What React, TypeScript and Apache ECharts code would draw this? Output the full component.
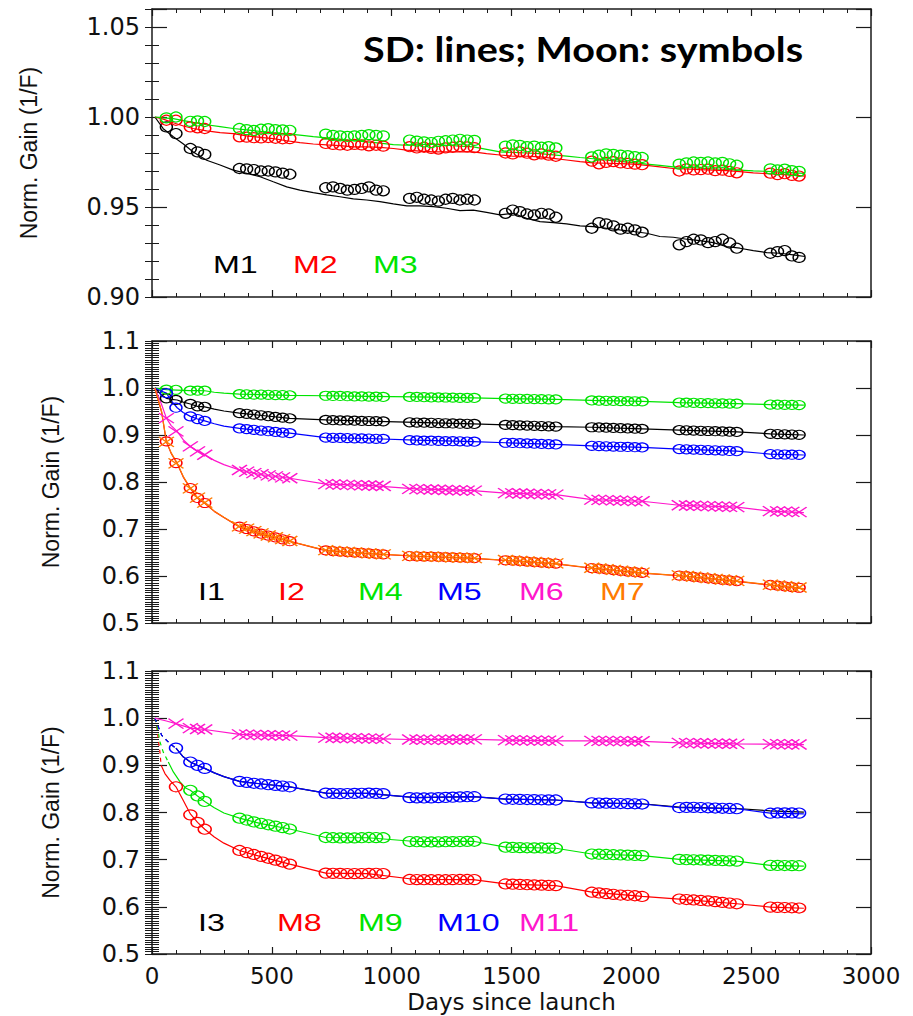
import React, { useEffect, useRef } from 'react';
import * as echarts from 'echarts';

// ---------- shared x values ----------
const xTicks = [0, 500, 1000, 1500, 2000, 2500, 3000];
const moonDays = [60, 100, 160, 190, 220, 365, 395, 425, 455, 485, 515, 545, 575, 725, 755, 785, 815, 845, 875, 905, 935, 965, 1075, 1105, 1135, 1165, 1195, 1225, 1255, 1285, 1315, 1345, 1475, 1505, 1535, 1565, 1595, 1625, 1655, 1685, 1835, 1865, 1895, 1925, 1955, 1985, 2015, 2045, 2200, 2230, 2260, 2290, 2320, 2350, 2380, 2410, 2440, 2580, 2610, 2640, 2670, 2700];

// ---------- panel 1 : SD lines ----------
const sdDays = [12, 47, 89, 131, 172, 228, 284, 339, 395, 451, 506, 562, 617, 673, 729, 784, 840, 896, 951, 1007, 1063, 1118, 1174, 1229, 1285, 1341, 1396, 1452, 1507, 1563, 1619, 1674, 1730, 1786, 1841, 1897, 1952, 2008, 2064, 2119, 2175, 2231, 2286, 2342, 2398, 2453, 2509, 2565, 2620, 2676, 2724];
const m1Sd = [1.0, 0.9935, 0.989, 0.985, 0.9806, 0.976, 0.9733, 0.9705, 0.9687, 0.9668, 0.964, 0.9612, 0.9594, 0.958, 0.9567, 0.9557, 0.9545, 0.9539, 0.953, 0.9517, 0.9506, 0.9506, 0.9502, 0.9493, 0.948, 0.9483, 0.947, 0.9456, 0.9465, 0.9437, 0.9419, 0.9413, 0.9406, 0.9395, 0.9391, 0.9382, 0.9373, 0.9364, 0.9354, 0.9336, 0.9332, 0.9321, 0.9313, 0.9302, 0.928, 0.9271, 0.9258, 0.9247, 0.9243, 0.9234, 0.9225];
const m2Sd = [1.0, 0.9988, 0.9968, 0.995, 0.9936, 0.9923, 0.9913, 0.9908, 0.9895, 0.9887, 0.988, 0.9868, 0.9858, 0.985, 0.9845, 0.9841, 0.9834, 0.9834, 0.9831, 0.9825, 0.9816, 0.981, 0.9806, 0.9806, 0.9806, 0.9806, 0.9797, 0.9789, 0.9782, 0.9782, 0.9778, 0.977, 0.9761, 0.9752, 0.9745, 0.9743, 0.9741, 0.9738, 0.9731, 0.9723, 0.9714, 0.9711, 0.9708, 0.9705, 0.9702, 0.9697, 0.969, 0.9685, 0.9681, 0.9677, 0.9672];
const m3Sd = [1.0, 0.9995, 0.9991, 0.998, 0.997, 0.9957, 0.9947, 0.9936, 0.9928, 0.992, 0.9913, 0.9906, 0.9899, 0.9891, 0.9884, 0.9877, 0.9869, 0.9862, 0.9855, 0.9847, 0.9843, 0.9846, 0.9849, 0.9843, 0.9838, 0.9834, 0.982, 0.9806, 0.9803, 0.98, 0.9797, 0.979, 0.9783, 0.9775, 0.9768, 0.976, 0.9753, 0.9746, 0.9738, 0.9731, 0.9723, 0.972, 0.9716, 0.9712, 0.9709, 0.9705, 0.9701, 0.9698, 0.9694, 0.969, 0.9687];

// ---------- panel 1 : Moon ----------
const m1Moon = [0.9945, 0.9908, 0.9825, 0.9806, 0.9792, 0.9714, 0.9712, 0.9708, 0.97, 0.97, 0.9695, 0.9688, 0.9682, 0.9607, 0.9612, 0.9603, 0.9594, 0.9598, 0.9603, 0.9612, 0.9594, 0.959, 0.9548, 0.9554, 0.9543, 0.9539, 0.9533, 0.9543, 0.9548, 0.9539, 0.9543, 0.9539, 0.9465, 0.9483, 0.9474, 0.9461, 0.9456, 0.9465, 0.9461, 0.9443, 0.9382, 0.9413, 0.9406, 0.9395, 0.9377, 0.9382, 0.9373, 0.936, 0.929, 0.9308, 0.9321, 0.9317, 0.9302, 0.9308, 0.9321, 0.93, 0.9271, 0.9243, 0.9252, 0.9258, 0.9228, 0.922];
const m2Moon = [0.9982, 0.9982, 0.9945, 0.994, 0.9936, 0.989, 0.9888, 0.9885, 0.9884, 0.9886, 0.9882, 0.9879, 0.988, 0.9853, 0.9848, 0.9845, 0.9843, 0.9848, 0.9845, 0.984, 0.9843, 0.9838, 0.9835, 0.9828, 0.9832, 0.9826, 0.9822, 0.9828, 0.9832, 0.9836, 0.9834, 0.983, 0.98, 0.9795, 0.9806, 0.9799, 0.979, 0.9795, 0.9788, 0.9782, 0.9755, 0.974, 0.9748, 0.9752, 0.9745, 0.9742, 0.9738, 0.9735, 0.97, 0.9712, 0.9706, 0.9708, 0.971, 0.9702, 0.9705, 0.9698, 0.969, 0.9688, 0.968, 0.9685, 0.9676, 0.9672];
const m3Moon = [0.9995, 1.0, 0.9976, 0.9978, 0.9975, 0.9936, 0.993, 0.9925, 0.9932, 0.9935, 0.993, 0.9928, 0.9926, 0.9905, 0.9898, 0.9895, 0.9892, 0.9895, 0.9898, 0.9902, 0.9898, 0.9895, 0.9872, 0.9866, 0.9862, 0.9858, 0.9865, 0.9868, 0.9872, 0.9876, 0.9872, 0.987, 0.9838, 0.9845, 0.9842, 0.9835, 0.9838, 0.9832, 0.9835, 0.9828, 0.9778, 0.9788, 0.9795, 0.9792, 0.9788, 0.9785, 0.978, 0.9775, 0.9738, 0.9745, 0.975, 0.9748, 0.975, 0.9745, 0.9748, 0.974, 0.9732, 0.9712, 0.9706, 0.971, 0.9702, 0.9698];

// ---------- panel 2 : fit lines ----------
const fitDays2 = [12, 40, 60, 80, 105, 130, 160, 190, 220, 260, 300, 365, 450, 575, 725, 900, 1100, 1340, 1475, 1685, 1835, 2045, 2200, 2440, 2580, 2720];
const i1Fit = [1.0, 0.985, 0.978, 0.976, 0.9745, 0.97, 0.966, 0.961, 0.96, 0.955, 0.951, 0.9465, 0.942, 0.9355, 0.932, 0.9295, 0.927, 0.9235, 0.9215, 0.918, 0.9165, 0.913, 0.9105, 0.9065, 0.9025, 0.9];
const i2Fit = [1.0, 0.949, 0.8855, 0.861, 0.8395, 0.811, 0.7865, 0.7655, 0.7548, 0.7375, 0.7245, 0.7045, 0.6895, 0.6735, 0.654, 0.6475, 0.642, 0.6375, 0.633, 0.626, 0.6165, 0.606, 0.6005, 0.5885, 0.5805, 0.5725];
const m4Fit = [1.0, 0.998, 0.9964, 0.996, 0.9955, 0.995, 0.9943, 0.9943, 0.9942, 0.991, 0.989, 0.987, 0.986, 0.9845, 0.9835, 0.9822, 0.981, 0.9788, 0.9775, 0.9758, 0.9735, 0.9715, 0.969, 0.9668, 0.9648, 0.9635];
const m5Fit = [1.0, 0.993, 0.989, 0.973, 0.958, 0.948, 0.9396, 0.934, 0.93, 0.924, 0.919, 0.914, 0.9095, 0.904, 0.8945, 0.8925, 0.889, 0.8858, 0.8835, 0.88, 0.877, 0.8735, 0.87, 0.8655, 0.8595, 0.8575];
const m6Fit = [1.0, 0.965, 0.936, 0.92, 0.9077, 0.89, 0.8757, 0.865, 0.858, 0.846, 0.837, 0.8255, 0.816, 0.808, 0.7955, 0.793, 0.7855, 0.7815, 0.7765, 0.773, 0.7625, 0.759, 0.7505, 0.7465, 0.738, 0.735];
const m7Fit = [1.0, 0.95, 0.8864, 0.862, 0.8404, 0.812, 0.7872, 0.766, 0.7553, 0.738, 0.725, 0.705, 0.69, 0.674, 0.6545, 0.648, 0.6425, 0.638, 0.6335, 0.6265, 0.617, 0.6065, 0.601, 0.589, 0.581, 0.573];

// ---------- panel 2 : Moon ----------
const i1Moon = [0.978, 0.9745, 0.966, 0.961, 0.96, 0.9465, 0.945, 0.9435, 0.942, 0.94, 0.9385, 0.937, 0.9355, 0.932, 0.9315, 0.931, 0.931, 0.9305, 0.93, 0.9298, 0.9295, 0.929, 0.927, 0.9265, 0.9262, 0.926, 0.9255, 0.925, 0.9245, 0.924, 0.9238, 0.9235, 0.9215, 0.921, 0.9205, 0.92, 0.9195, 0.919, 0.9185, 0.918, 0.9165, 0.916, 0.9155, 0.915, 0.9145, 0.914, 0.9135, 0.913, 0.9105, 0.91, 0.9095, 0.909, 0.9085, 0.908, 0.9075, 0.907, 0.9065, 0.9025, 0.902, 0.9015, 0.901, 0.9005];
const i2Moon = [0.8864, 0.8404, 0.7872, 0.766, 0.7553, 0.705, 0.7, 0.695, 0.69, 0.686, 0.682, 0.678, 0.674, 0.6545, 0.653, 0.652, 0.651, 0.65, 0.649, 0.648, 0.647, 0.646, 0.6425, 0.642, 0.6415, 0.641, 0.6405, 0.64, 0.6395, 0.639, 0.6385, 0.638, 0.6335, 0.6325, 0.6315, 0.6305, 0.6295, 0.6285, 0.6275, 0.6265, 0.617, 0.6155, 0.614, 0.6125, 0.611, 0.6095, 0.608, 0.6065, 0.601, 0.5995, 0.598, 0.5965, 0.595, 0.5935, 0.592, 0.5905, 0.589, 0.581, 0.5795, 0.578, 0.5765, 0.575];
const m4Moon = [0.9964, 0.9962, 0.9943, 0.9943, 0.9942, 0.987, 0.9865, 0.986, 0.986, 0.9855, 0.985, 0.985, 0.9845, 0.9835, 0.983, 0.983, 0.9825, 0.982, 0.982, 0.9818, 0.9815, 0.981, 0.981, 0.981, 0.9805, 0.98, 0.98, 0.9798, 0.9795, 0.979, 0.979, 0.9788, 0.9775, 0.977, 0.977, 0.9768, 0.9765, 0.9762, 0.976, 0.9758, 0.9735, 0.973, 0.9728, 0.9725, 0.9722, 0.972, 0.9718, 0.9715, 0.969, 0.9688, 0.9685, 0.968, 0.9678, 0.9675, 0.9672, 0.967, 0.9668, 0.9648, 0.9645, 0.9642, 0.964, 0.9638];
const m5Moon = [0.989, 0.958, 0.9396, 0.934, 0.93, 0.914, 0.9125, 0.911, 0.9095, 0.908, 0.9065, 0.905, 0.904, 0.8945, 0.894, 0.8938, 0.8935, 0.893, 0.8928, 0.8925, 0.892, 0.8918, 0.889, 0.8885, 0.888, 0.8878, 0.8875, 0.887, 0.8868, 0.8865, 0.886, 0.8858, 0.8835, 0.883, 0.8825, 0.882, 0.8815, 0.881, 0.8805, 0.88, 0.877, 0.8765, 0.876, 0.8755, 0.875, 0.8745, 0.874, 0.8735, 0.87, 0.8695, 0.869, 0.8685, 0.868, 0.8675, 0.867, 0.866, 0.8655, 0.8595, 0.859, 0.8585, 0.858, 0.8578];
const m6Moon = [0.936, 0.9077, 0.8757, 0.865, 0.858, 0.8255, 0.822, 0.819, 0.8165, 0.814, 0.812, 0.81, 0.808, 0.7955, 0.795, 0.7945, 0.794, 0.7935, 0.793, 0.7925, 0.792, 0.7915, 0.7855, 0.785, 0.7845, 0.784, 0.7835, 0.783, 0.7825, 0.782, 0.7818, 0.7815, 0.7765, 0.776, 0.7755, 0.775, 0.7745, 0.774, 0.7735, 0.773, 0.7625, 0.762, 0.7615, 0.761, 0.7605, 0.76, 0.7595, 0.759, 0.7505, 0.75, 0.7495, 0.749, 0.7485, 0.748, 0.7475, 0.747, 0.7465, 0.738, 0.7375, 0.737, 0.7365, 0.736];
const m7Moon = [0.8855, 0.8395, 0.7865, 0.7668, 0.756, 0.7055, 0.7008, 0.6955, 0.6905, 0.6862, 0.6825, 0.6785, 0.6745, 0.655, 0.6535, 0.6522, 0.6512, 0.6502, 0.6492, 0.6482, 0.6472, 0.6462, 0.643, 0.6422, 0.6418, 0.6412, 0.6408, 0.6402, 0.6398, 0.6392, 0.6388, 0.6382, 0.634, 0.633, 0.632, 0.631, 0.63, 0.629, 0.628, 0.627, 0.6175, 0.616, 0.6145, 0.613, 0.6115, 0.61, 0.6085, 0.607, 0.6015, 0.6, 0.5985, 0.597, 0.5955, 0.594, 0.5925, 0.591, 0.5895, 0.5815, 0.58, 0.5785, 0.577, 0.5755];

// ---------- panel 3 : fit lines ----------
const m8DashDays = [12, 20, 26, 33, 38];
const m8Dash = [1.0, 0.98, 0.957, 0.928, 0.9];
const m9DashDays = [12, 26, 33, 47, 68];
const m9Dash = [1.0, 0.971, 0.95, 0.928, 0.907];
const m10DashDays = [12, 26, 40, 61, 82, 100];
const m10Dash = [1.0, 0.982, 0.964, 0.953, 0.943, 0.9365];
const m8FitDays = [38, 54, 75, 100, 130, 160, 190, 220, 260, 300, 365, 450, 575, 725, 900, 1100, 1340, 1475, 1685, 1835, 2045, 2200, 2440, 2580, 2720];
const m8Fit = [0.9, 0.8826, 0.868, 0.8545, 0.826, 0.797, 0.779, 0.7645, 0.748, 0.735, 0.7195, 0.707, 0.6905, 0.6715, 0.6705, 0.658, 0.6578, 0.6485, 0.645, 0.631, 0.622, 0.6165, 0.6065, 0.5995, 0.597];
const m9FitDays = [68, 89, 117, 140, 160, 190, 220, 260, 300, 365, 450, 575, 725, 900, 1100, 1340, 1475, 1685, 1835, 2045, 2200, 2440, 2580, 2720];
const m9Fit = [0.907, 0.886, 0.865, 0.852, 0.847, 0.835, 0.8235, 0.81, 0.799, 0.788, 0.777, 0.765, 0.747, 0.7465, 0.7385, 0.739, 0.7265, 0.7242, 0.712, 0.7085, 0.7005, 0.697, 0.688, 0.6865];
const m10FitDays = [100, 130, 160, 190, 220, 260, 300, 365, 450, 575, 725, 900, 1100, 1340, 1475, 1685, 1835, 2045, 2200, 2440, 2580, 2720];
const m10Fit = [0.9365, 0.918, 0.907, 0.9, 0.8935, 0.884, 0.876, 0.866, 0.861, 0.8545, 0.841, 0.8405, 0.8315, 0.8335, 0.8285, 0.8265, 0.8205, 0.818, 0.8105, 0.808, 0.7985, 0.797];
const i3Fit = [0.9365, 0.918, 0.907, 0.9, 0.8935, 0.884, 0.876, 0.866, 0.861, 0.8545, 0.841, 0.8405, 0.8315, 0.8335, 0.8285, 0.8265, 0.8205, 0.8185, 0.8115, 0.8085, 0.8035, 0.801];
const m11FitDays = [12, 60, 100, 160, 220, 365, 575, 725, 965, 1075, 1345, 1475, 1685, 1835, 2045, 2200, 2440, 2580, 2720];
const m11Fit = [1.0, 0.994, 0.9885, 0.979, 0.976, 0.9655, 0.9628, 0.9588, 0.956, 0.9548, 0.955, 0.9535, 0.952, 0.952, 0.951, 0.9475, 0.9455, 0.945, 0.944];

// ---------- panel 3 : Moon ----------
const m8Moon = [null, 0.8545, 0.795, 0.779, 0.7645, 0.7195, 0.715, 0.711, 0.707, 0.703, 0.699, 0.695, 0.6905, 0.6715, 0.671, 0.6708, 0.6705, 0.6705, 0.6705, 0.6708, 0.671, 0.6705, 0.658, 0.6578, 0.6575, 0.6575, 0.6575, 0.6575, 0.6578, 0.658, 0.658, 0.6578, 0.6485, 0.648, 0.6475, 0.647, 0.6465, 0.646, 0.6455, 0.645, 0.631, 0.6295, 0.628, 0.6265, 0.625, 0.6245, 0.6235, 0.622, 0.6165, 0.6155, 0.6145, 0.6135, 0.6125, 0.611, 0.6095, 0.608, 0.6065, 0.5995, 0.599, 0.5985, 0.598, 0.5975];
const m9Moon = [null, null, 0.847, 0.835, 0.8235, 0.788, 0.784, 0.78, 0.777, 0.774, 0.771, 0.768, 0.765, 0.747, 0.7465, 0.746, 0.746, 0.7462, 0.7465, 0.747, 0.7468, 0.7465, 0.7385, 0.738, 0.7378, 0.7375, 0.7378, 0.738, 0.7382, 0.7385, 0.7388, 0.739, 0.7265, 0.726, 0.7255, 0.7252, 0.725, 0.7248, 0.7245, 0.7242, 0.712, 0.7115, 0.711, 0.7105, 0.71, 0.7095, 0.709, 0.7085, 0.7005, 0.7, 0.6998, 0.6995, 0.699, 0.6985, 0.698, 0.6975, 0.697, 0.688, 0.6878, 0.6876, 0.6874, 0.6872];
const m10Moon = [null, 0.9365, 0.907, 0.9, 0.8935, 0.866, 0.864, 0.862, 0.8605, 0.859, 0.8575, 0.856, 0.8545, 0.841, 0.8405, 0.84, 0.8402, 0.8405, 0.8408, 0.841, 0.8405, 0.84, 0.8315, 0.831, 0.8308, 0.831, 0.8315, 0.832, 0.8325, 0.833, 0.8335, 0.8335, 0.8285, 0.828, 0.8278, 0.8275, 0.8272, 0.827, 0.8268, 0.8265, 0.8205, 0.82, 0.8198, 0.8195, 0.819, 0.8188, 0.8185, 0.818, 0.8105, 0.8108, 0.811, 0.8105, 0.81, 0.8095, 0.809, 0.8085, 0.808, 0.7985, 0.799, 0.7992, 0.799, 0.7988];
const m11Moon = [null, 0.9885, 0.979, 0.977, 0.976, 0.9655, 0.965, 0.9645, 0.964, 0.9638, 0.9635, 0.963, 0.9628, 0.9588, 0.9585, 0.958, 0.9578, 0.9575, 0.957, 0.9568, 0.9565, 0.956, 0.9548, 0.9545, 0.9545, 0.954, 0.954, 0.9542, 0.9545, 0.9548, 0.955, 0.955, 0.9535, 0.953, 0.953, 0.9528, 0.9525, 0.9525, 0.9522, 0.952, 0.952, 0.9518, 0.9518, 0.9515, 0.9515, 0.9512, 0.951, 0.951, 0.9475, 0.947, 0.947, 0.9468, 0.9465, 0.9462, 0.946, 0.9458, 0.9455, 0.945, 0.9448, 0.9446, 0.9444, 0.9442];

// ---------- labels ----------
const yTitle = 'Norm. Gain (1/F)';
const xTitle = 'Days since launch';
const noteText = 'SD: lines; Moon: symbols';
const legend1 = ['M1', 'M2', 'M3'];
const legend2 = ['I1', 'I2', 'M4', 'M5', 'M6', 'M7'];
const legend3 = ['I3', 'M8', 'M9', 'M10', 'M11'];

const COL = {
  black: '#000000',
  red: '#ff0000',
  green: '#00e400',
  blue: '#0000ff',
  magenta: '#ff16cc',
  orange: '#ff7a00',
};

const pairs = (xs: number[], ys: (number | null)[]) =>
  xs.map((x, i) => (ys[i] == null ? null : [x, ys[i]])).filter((p) => p !== null) as number[][];

const FRAME = '#1a1a1a';
const LABEL_FONT = 'DejaVu Sans';

function xAxesFor(g: number, showLabels: boolean) {
  const base: any = {
    type: 'value',
    gridIndex: g,
    min: xTicks[0],
    max: xTicks[xTicks.length - 1],
    interval: 500,
    splitLine: { show: false },
    axisLine: { show: true, onZero: false, lineStyle: { color: FRAME, width: 1.5 } },
    axisTick: { show: true, inside: true, length: 7, lineStyle: { color: FRAME, width: 1.2 } },
    minorTick: { show: true, splitNumber: 5, length: 4, lineStyle: { color: FRAME, width: 1 } },
    minorSplitLine: { show: false },
  };
  return [
    {
      ...base,
      position: 'bottom',
      axisLabel: {
        show: showLabels,
        margin: 10,
        fontFamily: LABEL_FONT,
        fontSize: 23,
        color: '#111',
        formatter: (v: number) => String(Math.round(v)),
      },
      name: showLabels ? xTitle : '',
      nameLocation: 'middle',
      nameGap: 36,
      nameTextStyle: { fontFamily: LABEL_FONT, fontSize: 23, color: '#111' },
    },
    { ...base, position: 'top', axisLabel: { show: false } },
  ];
}

function yAxesFor(g: number, min: number, max: number, major: number, minor: number, digits: number, nameGap: number) {
  const common: any = { type: 'value', gridIndex: g, min, max, splitLine: { show: false } };
  const majorTick = { show: true, inside: true, length: 15, lineStyle: { color: FRAME, width: 1.2 } };
  const minorTickS = { show: true, inside: true, length: 7, lineStyle: { color: FRAME, width: 1 } };
  const fmt = (v: number) => {
    const k = v / major;
    return Math.abs(k - Math.round(k)) < 1e-6 ? v.toFixed(digits) : '';
  };
  return [
    {
      ...common,
      position: 'left',
      interval: major,
      axisLine: { show: true, onZero: false, lineStyle: { color: FRAME, width: 1.5 } },
      axisTick: majorTick,
      axisLabel: { show: true, formatter: fmt, margin: 12, fontFamily: LABEL_FONT, fontSize: 24, color: '#111' },
      name: yTitle,
      nameLocation: 'middle',
      nameGap,
      nameRotate: 90,
      nameTextStyle: { fontFamily: 'Liberation Sans', fontSize: 23, color: '#111' },
    },
    { ...common, position: 'left', interval: minor, axisLine: { show: false }, axisTick: minorTickS, axisLabel: { show: false } },
    {
      ...common,
      position: 'right',
      interval: major,
      axisLine: { show: true, onZero: false, lineStyle: { color: FRAME, width: 1.5 } },
      axisTick: majorTick,
      axisLabel: { show: false },
    },
    { ...common, position: 'right', interval: minor, axisLine: { show: false }, axisTick: minorTickS, axisLabel: { show: false } },
  ];
}

const X_SYMBOL = 'path://M0,0L16,10M16,0L0,10';

function lineS(g: number, xs: number[], ys: number[], color: string, dashed = false, width = 1.2) {
  return {
    type: 'line',
    xAxisIndex: 2 * g,
    yAxisIndex: 4 * g,
    data: pairs(xs, ys),
    showSymbol: false,
    symbol: 'none',
    silent: true,
    lineStyle: { color, width, type: dashed ? [4, 4] : 'solid' },
    z: 2,
  };
}

function circleS(g: number, ys: (number | null)[], color: string, size: number[]) {
  return {
    type: 'scatter',
    xAxisIndex: 2 * g,
    yAxisIndex: 4 * g,
    data: pairs(moonDays, ys),
    symbol: 'circle',
    symbolSize: size,
    silent: true,
    itemStyle: { color: 'rgba(0,0,0,0)', borderColor: color, borderWidth: 1.3, opacity: 1 },
    z: 3,
  };
}

function crossS(g: number, ys: (number | null)[], color: string) {
  return {
    type: 'scatter',
    xAxisIndex: 2 * g,
    yAxisIndex: 4 * g,
    data: pairs(moonDays, ys),
    symbol: X_SYMBOL,
    symbolSize: [15, 10],
    silent: true,
    itemStyle: { color: 'rgba(0,0,0,0)', borderColor: color, borderWidth: 1.4, opacity: 1 },
    z: 3,
  };
}

function legendTexts(names: string[], colors: string[], xs: number[], y: number) {
  return names.map((n, i) => ({
    type: 'text',
    x: xs[i],
    y,
    scaleX: 1.4,
    silent: true,
    style: {
      text: n,
      fill: colors[i],
      fontFamily: 'Liberation Sans',
      fontSize: 23,
      align: 'left',
      verticalAlign: 'middle',
    },
  }));
}

function buildOption() {
  const grid = [
    { left: 152, top: 9, width: 719, height: 288 },
    { left: 152, top: 341, width: 719, height: 282 },
    { left: 152, top: 671, width: 719, height: 283 },
  ];
  const xAxis = [...xAxesFor(0, false), ...xAxesFor(1, false), ...xAxesFor(2, true)];
  const yAxis = [
    ...yAxesFor(0, 0.9, 1.06, 0.05, 0.01, 2, 112),
    ...yAxesFor(1, 0.5, 1.1, 0.1, 0.005, 1, 90),
    ...yAxesFor(2, 0.5, 1.1, 0.1, 0.005, 1, 90),
  ];
  const c1 = [12, 10];
  const c2 = [12, 9];
  const c3 = [13, 10];
  const series: any[] = [
    // panel 1
    lineS(0, sdDays, m1Sd, COL.black),
    circleS(0, m1Moon, COL.black, c1),
    lineS(0, sdDays, m2Sd, COL.red),
    circleS(0, m2Moon, COL.red, c1),
    lineS(0, sdDays, m3Sd, COL.green),
    circleS(0, m3Moon, COL.green, c1),
    // panel 2
    lineS(1, fitDays2, i1Fit, COL.black),
    circleS(1, i1Moon, COL.black, c2),
    lineS(1, fitDays2, i2Fit, COL.red),
    circleS(1, i2Moon, COL.red, c2),
    lineS(1, fitDays2, m4Fit, COL.green),
    circleS(1, m4Moon, COL.green, c2),
    lineS(1, fitDays2, m5Fit, COL.blue),
    circleS(1, m5Moon, COL.blue, c2),
    lineS(1, fitDays2, m6Fit, COL.magenta),
    crossS(1, m6Moon, COL.magenta),
    lineS(1, fitDays2, m7Fit, COL.orange),
    crossS(1, m7Moon, COL.orange),
    // panel 3
    lineS(2, m10DashDays, m10Dash, '#000066', true),
    lineS(2, m10FitDays, i3Fit, COL.black),
    lineS(2, m8DashDays, m8Dash, COL.red, true),
    lineS(2, m8FitDays, m8Fit, COL.red),
    circleS(2, m8Moon, COL.red, c3),
    lineS(2, m9DashDays, m9Dash, COL.green, true),
    lineS(2, m9FitDays, m9Fit, COL.green),
    circleS(2, m9Moon, COL.green, c3),
    lineS(2, m10DashDays, m10Dash, COL.blue, true),
    lineS(2, m10FitDays, m10Fit, COL.blue),
    circleS(2, m10Moon, COL.blue, c3),
    lineS(2, m11FitDays, m11Fit, COL.magenta),
    crossS(2, m11Moon, COL.magenta),
  ];
  const graphic: any[] = [
    {
      type: 'text',
      x: 363,
      y: 48,
      scaleX: 1.13,
      silent: true,
      z: 10,
      style: {
        text: noteText,
        fill: '#000',
        fontFamily: 'Lato',
        fontWeight: 'bold',
        fontSize: 35,
        align: 'left',
        verticalAlign: 'middle',
      },
    },
    ...legendTexts(legend1, [COL.black, COL.red, COL.green], [213, 293, 373], 265),
    ...legendTexts(legend2, [COL.black, COL.red, COL.green, COL.blue, COL.magenta, COL.orange], [198, 278, 358, 437, 519, 600], 592),
    ...legendTexts(legend3, [COL.black, COL.red, COL.green, COL.blue, COL.magenta], [198, 277, 358, 437, 519], 923),
  ];
  return {
    animation: false,
    backgroundColor: '#ffffff',
    grid,
    xAxis,
    yAxis,
    series,
    graphic,
  };
}

export default function App() {
  const ref = useRef<HTMLDivElement>(null);
  useEffect(() => {
    if (!ref.current) return;
    const chart = echarts.init(ref.current, undefined, { renderer: 'svg' });
    chart.setOption(buildOption() as any);
    return () => {
      chart.dispose();
    };
  }, []);
  return (
    <div
      ref={ref}
      style={{ position: 'absolute', left: 0, top: 0, width: 913, height: 1016, background: '#fff' }}
    />
  );
}
